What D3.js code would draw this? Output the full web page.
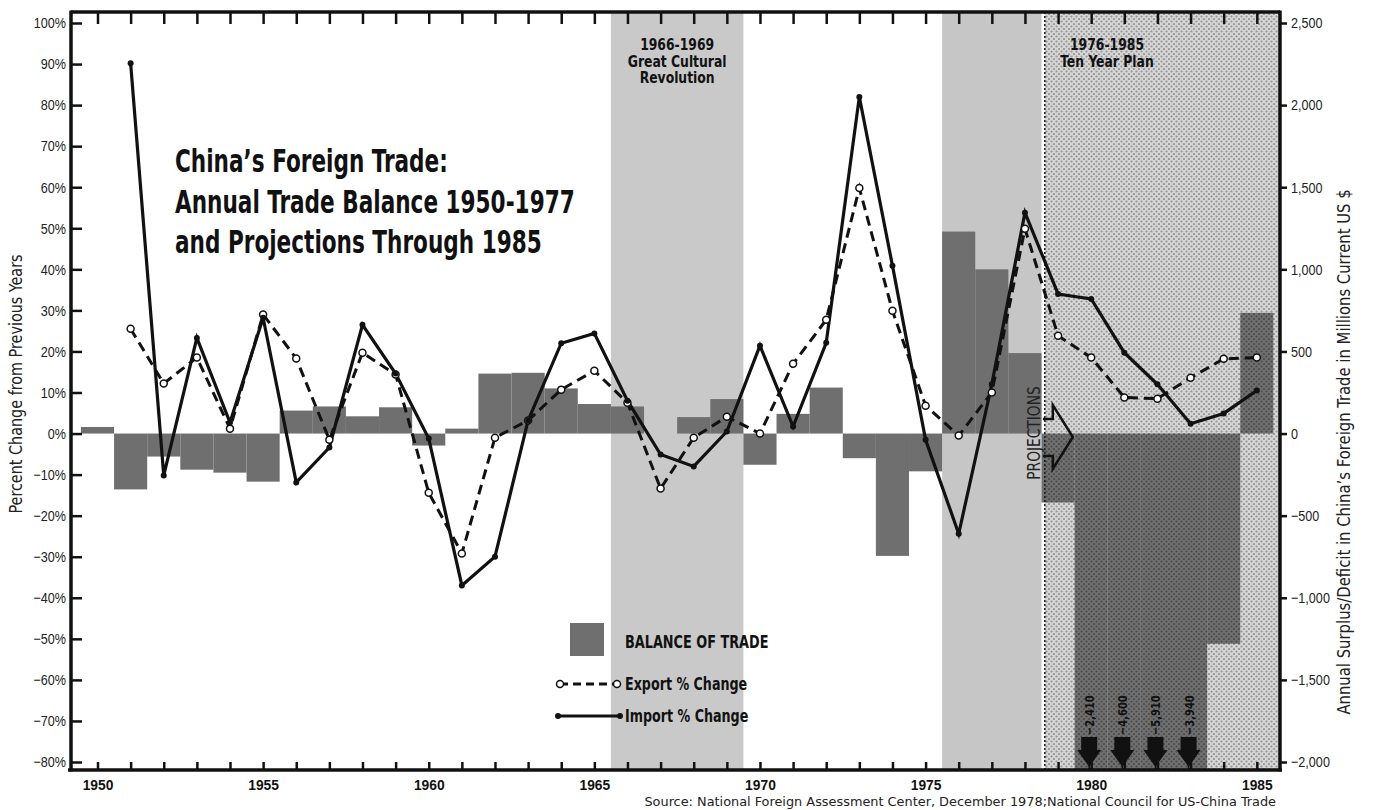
<!DOCTYPE html>
<html lang="en">
<head>
  <meta charset="UTF-8">
  <script src="https://d3js.org/d3.v7.min.js"></script>
  <title>China's Foreign Trade</title>
  <style>
    body { margin: 0; background: #fff; }
    svg { display: block; font-family: "Liberation Sans Narrow", "Arial Narrow", "DejaVu Sans Condensed", sans-serif; }
  </style>
</head>
<body>
  <svg width="1376" height="810"></svg>
  <script>
    // balance of trade, millions US$ (right axis)
    const years = [1950,1951,1952,1953,1954,1955,1956,1957,1958,1959,1960,1961,1962,1963,1964,1965,1966,1967,
                   1968,1969,1970,1971,1972,1973,1974,1975,1976,1977,1978,1979,1980,1981,1982,1983,1984,1985];
    const balance = [40,-340,-140,-220,-238,-293,140,165,105,160,-73,30,365,370,275,180,165,0,
                     100,210,-190,120,280,-150,-745,-230,1230,1000,490,-420,-2410,-4600,-5910,-3940,-1280,735];

    // percent change from previous year (left axis)
    const lineYears = [1951,1952,1953,1954,1955,1956,1957,1958,1959,1960,1961,1962,1963,1964,1965,1966,1967,1968,
                       1969,1970,1971,1972,1973,1974,1975,1976,1977,1978,1979,1980,1981,1982,1983,1984,1985];
    const exportChange = [25.5,12.2,18.5,1.2,29,18.3,-1.5,19.7,14.4,-14.4,-29.2,-1,3.2,10.7,15.3,7.5,-13.4,-1,
                          4.1,0,17,27.7,59.8,29.9,6.8,-0.5,10,49.9,23.8,18.5,8.8,8.5,13.6,18.2,18.5];
    const importChange = [90.2,-10.2,23.3,2.7,28.2,-11.9,-3.4,26.5,14.6,-1.2,-37,-30,3.2,22,24.4,8,-5.1,-8,
                          0.5,21.4,1.7,22.1,82,40.9,-1.5,-24.4,12,53.8,34,32.8,19.7,12,2.4,4.9,10.5];

    const leftTicks = [100,90,80,70,60,50,40,30,20,10,0,-10,-20,-30,-40,-50,-60,-70,-80];
    const rightTicks = [2500,2000,1500,1000,500,0,-500,-1000,-1500,-2000];
    const labelYears = [1950,1955,1960,1965,1970,1975,1980,1985];

    const revolutionSpan = [1965.5, 1969.5];
    const lateShadeSpan = [1975.5, 1978.5];
    const planStart = 1978.6;

    const titleLines = ["China\u2019s Foreign Trade:", "Annual Trade Balance 1950-1977", "and Projections Through 1985"];

    const pLeft = 71, pRight = 1280, pTop = 12, pBottom = 770;
    const svg = d3.select("svg");

    // no narrow font installed, so squeeze the glyphs to a condensed width
    const condense = (sel, k) => sel.each(function () {
      const w = this.getComputedTextLength();
      if (w > 0) d3.select(this).attr("textLength", w * k).attr("lengthAdjust", "spacingAndGlyphs");
    });

    const x = d3.scaleLinear().domain([1949.2, 1985.7]).range([pLeft, pRight]);
    const yPct = d3.scaleLinear().domain([-80, 100]).range([762, 23]);
    const yBal = d3.scaleLinear().domain([-2000, 2500]).range([762, 23]);

    const defs = svg.append("defs");
    defs.append("clipPath").attr("id", "plot")
      .append("rect").attr("x", pLeft).attr("y", pTop).attr("width", pRight - pLeft).attr("height", pBottom - pTop);
    const dots = defs.append("pattern").attr("id", "dots")
      .attr("patternUnits", "userSpaceOnUse").attr("width", 5).attr("height", 5);
    dots.append("circle").attr("cx", 1.5).attr("cy", 1.5).attr("r", 1.1).attr("fill", "rgba(0,0,0,0.3)");
    dots.append("circle").attr("cx", 4).attr("cy", 4).attr("r", 1.1).attr("fill", "rgba(0,0,0,0.3)");

    const plot = svg.append("g").attr("clip-path", "url(#plot)");

    // shaded periods
    plot.append("rect").attr("x", x(revolutionSpan[0])).attr("y", pTop)
      .attr("width", x(revolutionSpan[1]) - x(revolutionSpan[0])).attr("height", pBottom - pTop).attr("fill", "#c9c9c9");
    plot.append("rect").attr("x", x(lateShadeSpan[0])).attr("y", pTop)
      .attr("width", x(lateShadeSpan[1]) - x(lateShadeSpan[0])).attr("height", pBottom - pTop).attr("fill", "#c6c6c6");
    plot.append("rect").attr("x", x(planStart)).attr("y", pTop)
      .attr("width", pRight - x(planStart)).attr("height", pBottom - pTop).attr("fill", "#d6d6d6");

    // balance bars
    plot.selectAll("rect.bar")
      .data(years.map((yr, i) => ({yr, v: balance[i]})))
      .enter()
      .append("rect")
      .attr("class", "bar")
      .attr("x", d => x(d.yr - 0.5))
      .attr("width", d => x(d.yr + 0.5) - x(d.yr - 0.5))
      .attr("y", d => yBal(Math.max(0, d.v)))
      .attr("height", d => Math.abs(yBal(d.v) - yBal(0)))
      .attr("fill", "#6f6f6f");

    // dotted screen over the projection period
    plot.append("rect").attr("x", x(planStart)).attr("y", pTop)
      .attr("width", pRight - x(planStart)).attr("height", pBottom - pTop).attr("fill", "url(#dots)");
    plot.append("line").attr("x1", x(planStart)).attr("x2", x(planStart)).attr("y1", pTop).attr("y2", pBottom)
      .attr("stroke", "#222").attr("stroke-width", 1.6).attr("stroke-dasharray", "2,2");

    // off-scale deficits: arrows with values
    const offScale = years.map((yr, i) => ({yr, v: balance[i]})).filter(d => d.v < -2000);
    const arrows = plot.selectAll("g.off").data(offScale).enter().append("g")
      .attr("class", "off").attr("transform", d => `translate(${x(d.yr) - 2},0)`);
    arrows.append("line").attr("y1", 760).attr("y2", pBottom).attr("stroke", "#111").attr("stroke-width", 1.5);
    arrows.append("path")
      .attr("d", "M-8,737 L8,737 L8,750 L12,750 L0,767 L-12,750 L-8,750 Z")
      .attr("fill", "#111");
    arrows.append("text")
      .attr("transform", "translate(5,735) rotate(-90)")
      .attr("font-size", 13).attr("font-weight", "bold").attr("fill", "#111")
      .text(d => d3.format(",")(d.v))
      .call(condense, 0.85);

    // lines
    const exportPts = lineYears.map((yr, i) => ({yr, v: exportChange[i]}));
    const importPts = lineYears.map((yr, i) => ({yr, v: importChange[i]}));
    const line = d3.line().x(d => x(d.yr)).y(d => yPct(d.v));

    plot.append("path").datum(exportPts).attr("d", line)
      .attr("fill", "none").attr("stroke", "#111").attr("stroke-width", 3).attr("stroke-dasharray", "10,6");
    plot.append("path").datum(importPts).attr("d", line)
      .attr("fill", "none").attr("stroke", "#111").attr("stroke-width", 3.2).attr("stroke-linejoin", "miter");

    plot.selectAll("circle.exp").data(exportPts).enter().append("circle")
      .attr("class", "exp").attr("cx", d => x(d.yr)).attr("cy", d => yPct(d.v)).attr("r", 3.5)
      .attr("fill", "#fff").attr("stroke", "#111").attr("stroke-width", 1.5);
    plot.selectAll("circle.imp").data(importPts).enter().append("circle")
      .attr("class", "imp").attr("cx", d => x(d.yr)).attr("cy", d => yPct(d.v)).attr("r", 3)
      .attr("fill", "#111");

    // projections marker
    const ax = x(planStart);
    svg.append("path")
      .attr("d", `M${ax - 2},419 L${ax + 8},419 L${ax + 8},405 L${ax + 28},437 L${ax + 8},469 L${ax + 8},456 L${ax - 2},456`)
      .attr("fill", "none").attr("stroke", "#111").attr("stroke-width", 2.5);
    svg.append("text").attr("transform", `translate(${ax - 5},433) rotate(-90)`)
      .attr("text-anchor", "middle").attr("font-size", 17).attr("fill", "#222").text("PROJECTIONS")
      .call(condense, 0.9);

    // axes
    const styleAxis = g => {
      g.select(".domain").remove();
      g.selectAll(".tick line").attr("stroke", "#111").attr("stroke-width", 2.5);
      g.selectAll(".tick text").attr("fill", "#222").style("font-family", "inherit");
    };

    svg.append("g").attr("transform", `translate(0,${pBottom})`)
      .call(d3.axisBottom(x).tickValues(years).tickSizeInner(-8).tickSizeOuter(0).tickPadding(9)
        .tickFormat(d => labelYears.includes(d) ? d : ""))
      .call(styleAxis)
      .call(g => g.selectAll(".tick text").attr("font-size", 15).attr("font-weight", "bold").attr("fill", "#111")
        .call(condense, 0.92));

    svg.append("g").attr("transform", `translate(0,${pTop})`)
      .call(d3.axisTop(x).tickValues(years).tickSizeInner(-12).tickSizeOuter(0).tickFormat(""))
      .call(styleAxis);

    svg.append("g").attr("transform", `translate(${pLeft},0)`)
      .call(d3.axisLeft(yPct).tickValues(leftTicks).tickSizeInner(-11).tickSizeOuter(0).tickPadding(5)
        .tickFormat(d => (d < 0 ? "\u2212" : "") + Math.abs(d) + "%"))
      .call(styleAxis)
      .call(g => g.selectAll(".tick text").attr("font-size", 15).call(condense, 0.84));

    svg.append("g").attr("transform", `translate(${pRight},0)`)
      .call(d3.axisRight(yBal).tickValues(rightTicks).tickSizeInner(7).tickSizeOuter(0).tickPadding(4)
        .tickFormat(d3.format(",")))
      .call(styleAxis)
      .call(g => g.selectAll(".tick text").attr("font-size", 15).call(condense, 0.84));

    // frame
    const frame = svg.append("g").attr("stroke", "#111").attr("stroke-width", 3.5);
    frame.append("line").attr("x1", pLeft).attr("x2", pRight).attr("y1", pTop).attr("y2", pTop);
    frame.append("line").attr("x1", pLeft - 3).attr("x2", pRight + 2).attr("y1", pBottom).attr("y2", pBottom);
    frame.append("line").attr("x1", pLeft).attr("x2", pLeft).attr("y1", pTop - 1.5).attr("y2", pBottom + 1.5);
    frame.append("line").attr("x1", pRight).attr("x2", pRight).attr("y1", pTop - 1.5).attr("y2", pBottom + 1.5);

    // axis titles
    svg.append("text").attr("transform", "translate(22,384) rotate(-90)")
      .attr("text-anchor", "middle").attr("font-size", 17).attr("fill", "#222")
      .text("Percent Change from Previous Years")
      .call(condense, 0.94);
    svg.append("text").attr("transform", "translate(1350,452) rotate(-90)")
      .attr("text-anchor", "middle").attr("font-size", 17).attr("fill", "#222")
      .text("Annual Surplus/Deficit in China\u2019s Foreign Trade in Millions Current US $")
      .call(condense, 0.97);

    // title
    svg.append("g").selectAll("text").data(titleLines).enter().append("text")
      .attr("x", 175).attr("y", (d, i) => 172 + i * 40.5)
      .attr("font-size", 32).attr("font-weight", "bold").attr("fill", "#111")
      .text(d => d)
      .call(condense, 0.75);

    // period captions
    const caption = (cx, lines) => svg.append("g").selectAll("text").data(lines).enter().append("text")
      .attr("x", cx).attr("y", (d, i) => 50 + i * 16.5)
      .attr("text-anchor", "middle").attr("font-size", 16).attr("font-weight", "bold").attr("fill", "#111")
      .text(d => d)
      .call(condense, 0.86);
    caption((x(revolutionSpan[0]) + x(revolutionSpan[1])) / 2, ["1966-1969", "Great Cultural", "Revolution"]);
    caption(1107, ["1976-1985", "Ten Year Plan"]);

    // legend
    const legend = svg.append("g").attr("font-size", 17).attr("font-weight", "bold").attr("fill", "#111");
    legend.append("rect").attr("x", 570).attr("y", 623).attr("width", 34).attr("height", 33).attr("fill", "#6f6f6f");
    legend.append("text").attr("x", 625).attr("y", 648).text("BALANCE OF TRADE").call(condense, 0.84);
    legend.append("line").attr("x1", 560).attr("x2", 617).attr("y1", 684).attr("y2", 684)
      .attr("stroke", "#111").attr("stroke-width", 3).attr("stroke-dasharray", "8,5");
    legend.selectAll("circle.le").data([560, 617]).enter().append("circle")
      .attr("cx", d => d).attr("cy", 684).attr("r", 3.5).attr("fill", "#fff").attr("stroke", "#111").attr("stroke-width", 1.5);
    legend.append("text").attr("x", 625).attr("y", 690).text("Export % Change").call(condense, 0.83);
    legend.append("line").attr("x1", 558).attr("x2", 620).attr("y1", 716).attr("y2", 716)
      .attr("stroke", "#111").attr("stroke-width", 3.2);
    legend.append("circle").attr("cx", 620).attr("cy", 716).attr("r", 3).attr("fill", "#111");
    legend.append("circle").attr("cx", 558).attr("cy", 716).attr("r", 3).attr("fill", "#111");
    legend.append("text").attr("x", 625).attr("y", 722).text("Import % Change").call(condense, 0.83);

    // source
    svg.append("text").attr("x", 1276).attr("y", 806).attr("text-anchor", "end")
      .attr("font-size", 13).attr("fill", "#222")
      .text("Source: National Foreign Assessment Center, December 1978;National Council for US-China Trade")
      .call(condense, 1.1);
  </script>
</body>
</html>
